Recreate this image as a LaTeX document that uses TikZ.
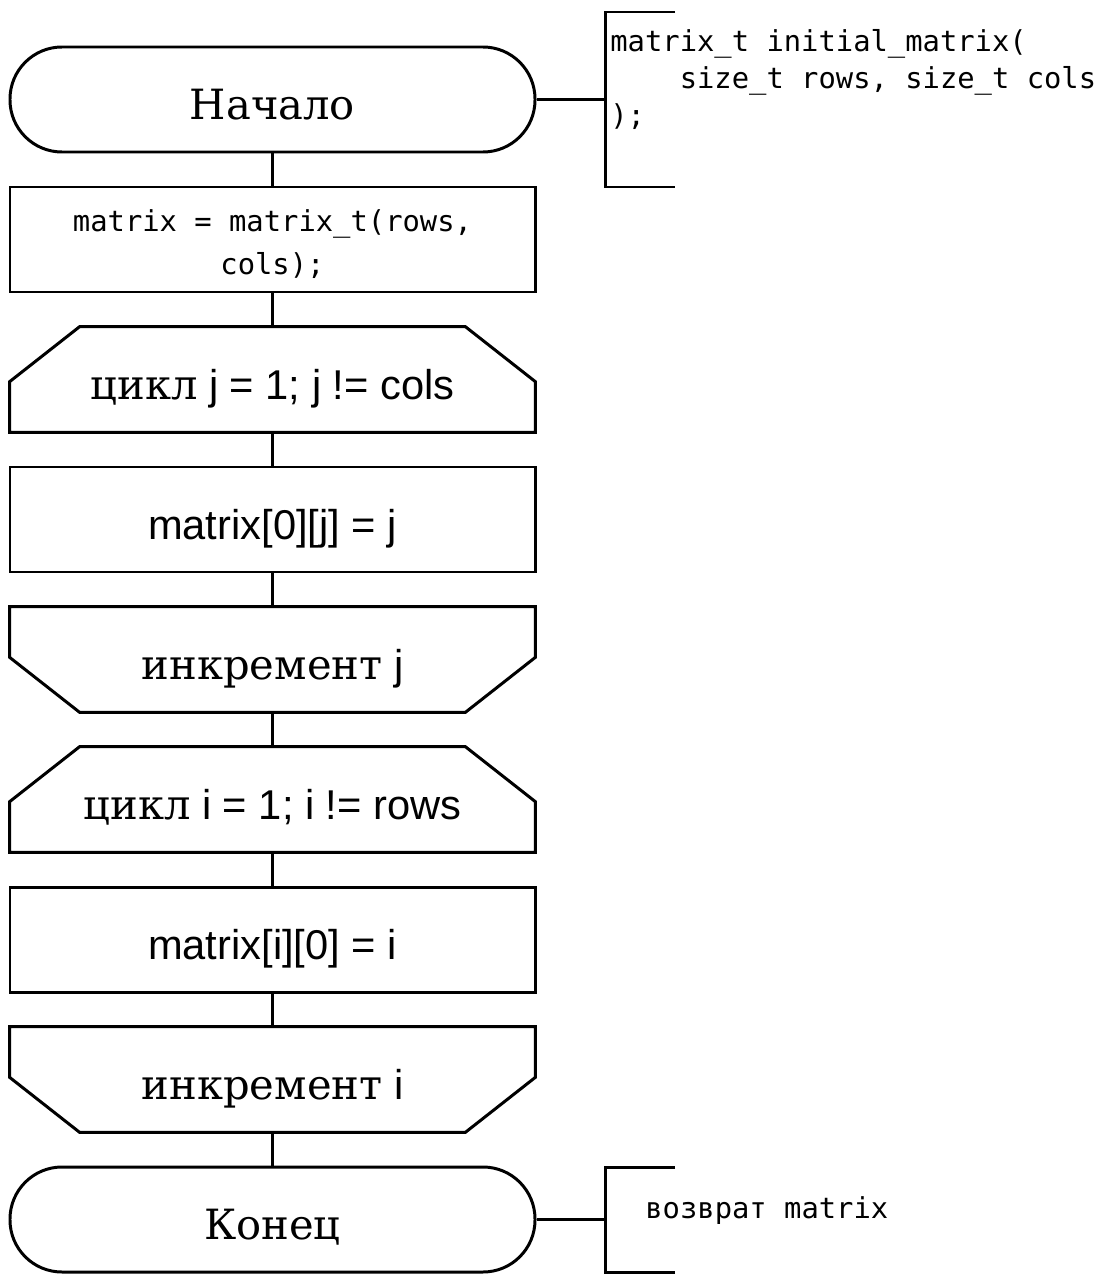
\documentclass[tikz,border=0pt]{standalone}
\usepackage{fontspec}
\setmainfont{Liberation Sans}
\setmonofont{DejaVu Sans Mono}
\newfontfamily\ruserif{DejaVu Serif}
\usetikzlibrary{positioning}
\tikzset{every node/.style={font=\fontsize{23.7pt}{28pt}\selectfont},
         link/.style={line width=1.7pt},
         terminal/.style={draw,line width=1.7pt,rounded corners=1.04cm,minimum width=10.5cm,minimum height=2.1cm,text height=0.8cm,text depth=0cm},
         process/.style={draw,line width=1.7pt,minimum width=10.5cm,minimum height=2.1cm,text height=0.8cm,text depth=0cm},
         loopbox/.style={minimum width=10.5cm,minimum height=2.1cm,text height=0.8cm,text depth=0cm},
         code/.style={font=\ttfamily\fontsize{16.4pt}{21.3pt}\selectfont,inner sep=0pt,align=left},
        }

\begin{document}
\begin{tikzpicture}
        \useasboundingbox (0,0) rectangle (22.12,-25.64);
        \node[terminal](start)at(5.45,-1.99){\ruserif Начало};
        \node[process,align=center,text height=1.4cm,
              font=\ttfamily\fontsize{16.4pt}{24.4pt}\selectfont](init)at(5.45,-4.79){matrix = matrix\_t(rows,\\cols);};
        \node[loopbox](loopj)at(5.45,-7.59){{\ruserif цикл} j = 1; j != cols};
        \node[process](setj)at(5.45,-10.39){matrix[0][j] = j};
        \node[loopbox](incj)at(5.45,-13.19){{\ruserif инкремент} j};
        \node[loopbox](loopi)at(5.45,-15.99){{\ruserif цикл} i = 1; i != rows};
        \node[process](seti)at(5.45,-18.79){matrix[i][0] = i};
        \node[loopbox](inci)at(5.45,-21.59){{\ruserif инкремент} i};
        \node[terminal](stop)at(5.45,-24.39){\ruserif Конец};

        % loop limits
        \foreach \n in {loopj,loopi}
            \draw[link]([xshift=1.4cm]\n.north west)--([xshift=-1.4cm]\n.north east)--([yshift=-1.1cm]\n.north east)
                --(\n.south east)--(\n.south west)--([yshift=-1.1cm]\n.north west)--cycle;
        \foreach \n in {incj,inci}
            \draw[link](\n.north west)--(\n.north east)--([yshift=1.1cm]\n.south east)
                --([xshift=-1.4cm]\n.south east)--([xshift=1.4cm]\n.south west)--([yshift=1.1cm]\n.south west)--cycle;

        \draw[link](start)--(init);
        \draw[link](init)--(loopj);
        \draw[link](loopj)--(setj);
        \draw[link](setj)--(incj);
        \draw[link](incj)--(loopi);
        \draw[link](loopi)--(seti);
        \draw[link](seti)--(inci);
        \draw[link](inci)--(stop);

        % comments
        \coordinate(c1)at(12.1,-1.99);
        \coordinate(c2)at(12.1,-24.39);
        \draw[link](start.east)--(c1);
        \draw[link](13.5,-0.24)-|(12.1,-3.74)--(13.5,-3.74);
        \node[code,anchor=west](sig)at(12.2,-1.59){matrix\_t initial\_matrix(\\\phantom{mmmm}size\_t rows, size\_t cols\\);};
        \draw[link](stop.east)--(c2);
        \draw[link](13.5,-23.34)-|(12.1,-25.44)--(13.5,-25.44);
        \node[code,anchor=west](ret)at(12.9,-24.22){возврат matrix};
    \end{tikzpicture}
\end{document}
